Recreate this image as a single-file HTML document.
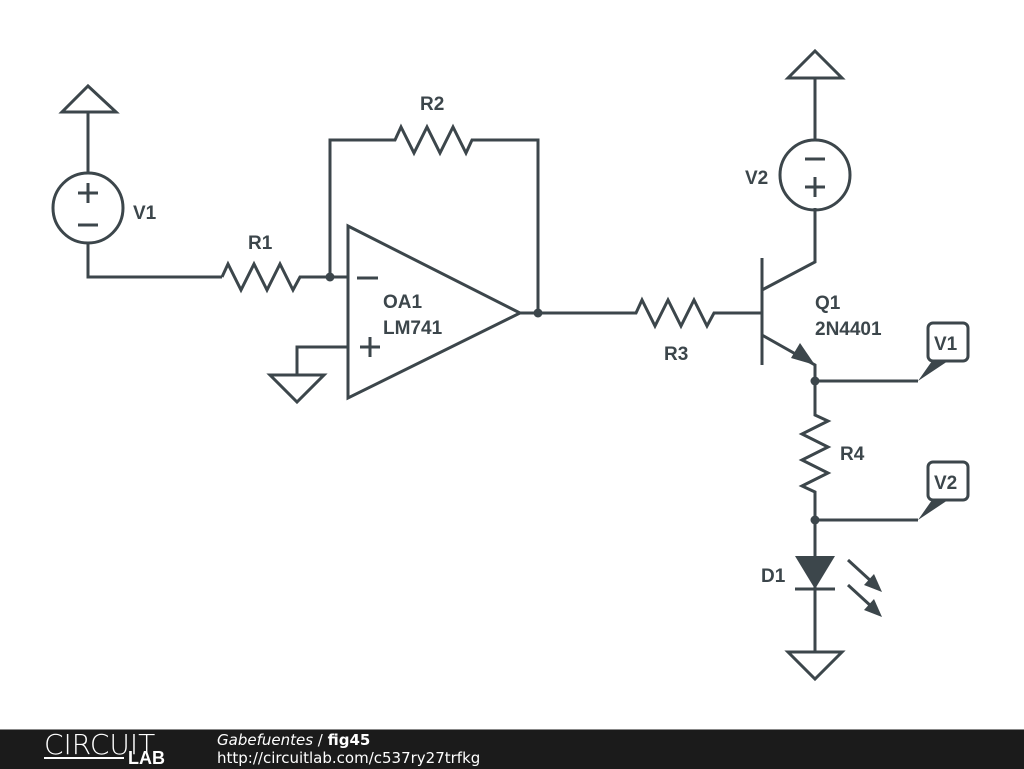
<!DOCTYPE html>
<html><head><style>
body{margin:0;width:1024px;height:768px;background:#fff;overflow:hidden;position:relative;font-family:"Liberation Sans",sans-serif}
svg{position:absolute;left:0;top:0}
.f{position:absolute;left:0;top:729px;width:1024px;height:39px;background:#1b1b1b;border-top:1px solid #888}
</style></head><body>
<svg width="1024" height="730" viewBox="0 0 1024 730">
<g fill="none" stroke="#3c464b" stroke-width="3" stroke-linejoin="miter">
<polygon points="62,112 116,112 88,86"/>
<line x1="88" y1="112" x2="88" y2="173"/>
<circle cx="88" cy="208" r="35"/>
<line x1="78" y1="193" x2="98" y2="193"/><line x1="88" y1="183" x2="88" y2="203"/>
<line x1="78" y1="225" x2="98" y2="225"/>
<polyline points="88,243 88,277 222,277"/>
<polyline points="222,277 228,264 241,290 254,264 267,290 280,264 293,290 300,277 348,277"/>
<polyline points="330,277 330,140 395,140 401,127 414,153 427,127 440,153 453,127 466,153 472,140 538,140 538,313"/>
<polygon points="348,226 348,398 520,313"/>
<line x1="357" y1="278" x2="378" y2="278"/>
<line x1="360" y1="347" x2="380" y2="347"/><line x1="370" y1="337" x2="370" y2="357"/>
<polyline points="348,347 297,347 297,375"/>
<polygon points="270,375 324,375 297,402"/>
<polyline points="520,313 636,313 642,300 655,326 668,300 681,326 694,300 707,326 714,313 762,313"/>
<line x1="762" y1="258" x2="762" y2="365"/>
<polyline points="762,290 815,262 815,208"/>
<polyline points="762,335 815,365 815,381"/>
<circle cx="815" cy="175" r="35"/>
<line x1="805" y1="159" x2="825" y2="159"/>
<line x1="805" y1="187" x2="825" y2="187"/><line x1="815" y1="177" x2="815" y2="197"/>
<polyline points="815,140 815,78"/>
<polygon points="788,78 842,78 815,51"/>
<polyline points="815,381 918,381"/>
<polyline points="815,381 815,415 828,421 802,434 828,447 802,460 828,473 802,486 815,492 815,520 918,520"/>
<line x1="815" y1="520" x2="815" y2="652"/>
<line x1="795" y1="589" x2="835" y2="589"/>
<polygon points="788,652 842,652 815,679"/>
<rect x="928" y="323" width="40" height="38" rx="5"/>
<rect x="928" y="462" width="40" height="38" rx="5"/>
<line x1="848" y1="560" x2="872" y2="582"/>
<line x1="848" y1="585" x2="872" y2="607"/>
</g>
<g fill="#3c464b">
<circle cx="330" cy="277" r="4.5"/><circle cx="538" cy="313" r="4.5"/>
<circle cx="815" cy="381" r="4.5"/><circle cx="815" cy="520" r="4.5"/>
<polygon points="795,556 835,556 815,589"/>
<polygon points="815,365 791,358 800,343"/>
<polygon points="918,381 932,361 948,361"/>
<polygon points="918,520 932,500 948,500"/>
<polygon points="882,592 864,585 874,574"/>
<polygon points="882,617 864,610 874,599"/>
</g>
<g font-family="Liberation Sans,sans-serif" font-weight="bold" font-size="19" fill="#3c464b">
<text x="133" y="219">V1</text>
<text x="248" y="249">R1</text>
<text x="420" y="110">R2</text>
<text x="383" y="308">OA1</text>
<text x="383" y="334">LM741</text>
<text x="664" y="360">R3</text>
<text x="745" y="184">V2</text>
<text x="815" y="309">Q1</text>
<text x="815" y="335">2N4401</text>
<text x="840" y="460">R4</text>
<text x="761" y="582">D1</text>
<text x="934" y="350">V1</text>
<text x="934" y="489">V2</text>
</g>
</svg>
<div class="f">
<div style="position:absolute;left:44px;top:-2px;color:#fff;font-size:28px;letter-spacing:0px;font-family:'DejaVu Sans',sans-serif;font-weight:200">CIRCUIT</div>
<div style="position:absolute;left:44px;top:27px;width:80px;border-top:2px solid #fff"></div>
<div style="position:absolute;left:128px;top:18px;color:#fff;font-size:18px;font-weight:bold">LAB</div>
<div style="position:absolute;left:217px;top:1px;color:#fff;font-size:15px;font-family:'DejaVu Sans',sans-serif"><i>Gabefuentes</i> / <b>fig45</b></div>
<div style="position:absolute;left:217px;top:19px;color:#fff;font-size:15px;font-family:'DejaVu Sans',sans-serif">http://circuitlab.com/c537ry27trfkg</div>
</div>
</body></html>
